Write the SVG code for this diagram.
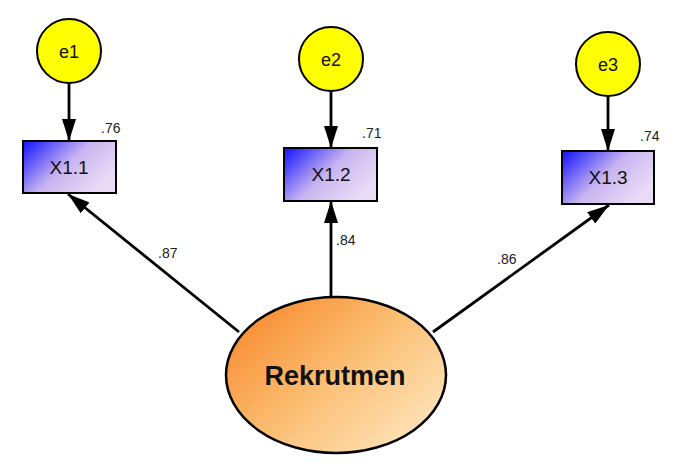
<svg xmlns="http://www.w3.org/2000/svg" width="676" height="467" viewBox="0 0 676 467">
<style>
.err{fill:#ffff00;stroke:#000;stroke-width:2}
.obs{fill:url(#gObs);stroke:#000;stroke-width:2}
.lat{fill:url(#gLat);stroke:#000;stroke-width:2.5}
.lbl{font-family:"Liberation Sans",Arial,sans-serif;fill:#111;text-anchor:middle}
.num{font-family:"Liberation Sans",Arial,sans-serif;font-size:14px;fill:#222}
.con{stroke:#000;stroke-width:2.8;fill:none;marker-end:url(#ah)}
</style>
<defs>
<linearGradient id="gObs" x1="0" y1="0" x2="1" y2="0.6">
<stop offset="0" stop-color="#1010ff"/>
<stop offset="0.55" stop-color="#c8b4f0"/>
<stop offset="1" stop-color="#eadcf6"/>
</linearGradient>
<linearGradient id="gLat" x1="0" y1="0.1" x2="1" y2="0.9">
<stop offset="0" stop-color="#f7862a"/>
<stop offset="0.5" stop-color="#fbbf74"/>
<stop offset="1" stop-color="#ffe8c4"/>
</linearGradient>
<marker id="ah" markerUnits="userSpaceOnUse" markerWidth="22" markerHeight="14" refX="22" refY="7" orient="auto">
<path d="M0,0 L22,7 L0,14 z" fill="#000"/>
</marker>
</defs>
<g id="connectors">
<line class="con" x1="69" y1="83" x2="69" y2="141"/>
<line class="con" x1="331" y1="91" x2="331" y2="148"/>
<line class="con" x1="608" y1="96" x2="608" y2="151"/>
<line class="con" x1="239" y1="332" x2="68" y2="194"/>
<line class="con" x1="331" y1="297" x2="331" y2="201"/>
<line class="con" x1="433" y1="332" x2="609" y2="205"/>
</g>
<g id="e1"><circle class="err" cx="69" cy="51" r="32"/><text class="lbl" x="69" y="58" font-size="18">e1</text></g>
<g id="e2"><circle class="err" cx="331" cy="59" r="32"/><text class="lbl" x="331" y="66" font-size="18">e2</text></g>
<g id="e3"><circle class="err" cx="608" cy="64" r="32"/><text class="lbl" x="608" y="71" font-size="18">e3</text></g>
<g id="X1.1"><rect class="obs" x="23" y="141" width="93" height="52"/><text class="lbl" x="69" y="174" font-size="19">X1.1</text></g>
<g id="X1.2"><rect class="obs" x="284" y="148" width="93" height="53"/><text class="lbl" x="331" y="181" font-size="19">X1.2</text></g>
<g id="X1.3"><rect class="obs" x="562" y="151" width="92" height="53"/><text class="lbl" x="608" y="184" font-size="19">X1.3</text></g>
<g id="Rekrutmen"><ellipse class="lat" cx="336" cy="375" rx="110" ry="78"/><text class="lbl" x="335" y="385" font-size="27" font-weight="bold">Rekrutmen</text></g>
<g id="labels">
<text class="num" x="101" y="133">.76</text>
<text class="num" x="362" y="138">.71</text>
<text class="num" x="640" y="141">.74</text>
<text class="num" x="158" y="258">.87</text>
<text class="num" x="336" y="245">.84</text>
<text class="num" x="497" y="264">.86</text>
</g>
</svg>
